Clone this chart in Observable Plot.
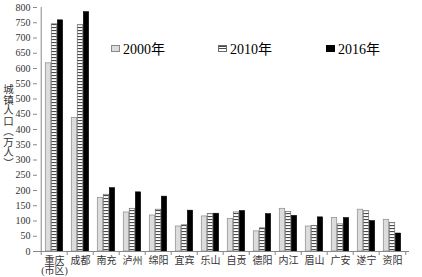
<!DOCTYPE html>
<html>
<head>
<meta charset="utf-8">
<script src="https://cdn.jsdelivr.net/npm/d3@7"></script>
<script src="https://cdn.jsdelivr.net/npm/@observablehq/plot@0.6"></script>
<style>
  html, body { margin: 0; padding: 0; background: #fff; }
  #wrap { position: relative; width: 422px; height: 277px; overflow: hidden; }
  #legend { position: absolute; top: 38px; left: 111px; display: flex; align-items: center;
    font-family: "Liberation Serif", "Noto Sans CJK SC", serif; font-size: 14px; color: #000; }
  .item { display: flex; align-items: center; }
  .sw { width: 9px; height: 7px; margin-right: 3px; box-sizing: border-box; }
</style>
</head>
<body>
<div id="wrap"></div>
<script>
const cities = ["重庆", "成都", "南充", "泸州", "绵阳", "宜宾", "乐山", "自贡", "德阳", "内江", "眉山", "广安", "遂宁", "资阳"];
const years = ["2000年", "2010年", "2016年"];
const v2000 = [617, 438, 176, 128, 118, 82, 115, 107, 66, 140, 82, 110, 137, 104];
const v2010 = [745, 742, 186, 140, 137, 86, 123, 128, 76, 130, 84, 89, 132, 93];
const v2016 = [758, 785, 208, 194, 180, 134, 124, 133, 123, 117, 112, 110, 100, 59];
const yTicks = d3.range(0, 801, 50);
const yLabel = "城\n镇\n人\n口\n︵\n万\n人\n︶";

const series = [v2000, v2010, v2016];
const rows = [];
years.forEach((y, j) => cities.forEach((c, i) => rows.push({city: c, year: y, value: series[j][i]})));

const W = 422, H = 277, mL = 37, mR = 13, mT = 7, mB = 26;
const bw = (W - mL - mR) / cities.length;
const barW = 6;
const pad = (bw - 3 * barW) / 2;
const font = "'Liberation Serif', 'Noto Sans CJK SC', serif";

const styles = [
  {fill: "#dcdcdc", stroke: "#8a8a8a", strokeWidth: 0.7},
  {fill: "url(#stripes)", stroke: "#6a6a6a", strokeWidth: 0.7},
  {fill: "#000", stroke: "#000", strokeWidth: 0.5}
];

const barMarks = years.map((y, j) => Plot.barY(rows.filter(r => r.year === y), {
  x: "city", y: "value",
  insetLeft: pad + j * barW,
  insetRight: bw - pad - (j + 1) * barW,
  ...styles[j]
}));

const chart = Plot.plot({
  width: W, height: H,
  marginLeft: mL, marginRight: mR, marginTop: mT, marginBottom: mB,
  style: {fontFamily: font, background: "white", color: "#000"},
  x: {type: "band", domain: cities, padding: 0, axis: null, label: null},
  y: {domain: [0, 800], axis: null, label: null},
  marks: [
    ...barMarks,
    Plot.ruleY([0], {stroke: "#888", strokeWidth: 1}),
    Plot.ruleX([cities[0]], {dx: -bw / 2, stroke: "#888", strokeWidth: 1}),
    Plot.ruleX(cities, {x: d => d, y1: 0, y2: 0, insetBottom: -4, dx: -bw / 2, stroke: "#888"}),
    Plot.ruleX([cities[cities.length - 1]], {y1: 0, y2: 0, insetBottom: -4, dx: bw / 2, stroke: "#888"}),
    Plot.axisY({ticks: yTicks, tickSize: 4, tickPadding: 3, label: null, fontSize: 10, stroke: "#888", fill: "#333"}),
    Plot.axisX({tickSize: 0, tickPadding: 5, fontSize: 10, lineHeight: 1, fill: "#333", label: null,
      tickFormat: c => c === "重庆" ? "重庆\n(市区)" : c}),
    Plot.text([yLabel], {text: d => d, frameAnchor: "left", textAnchor: "middle", dx: -29, dy: -3,
      fontSize: 10.5, lineHeight: 1, fill: "#333"})
  ]
});

d3.select(chart).insert("defs", ":first-child").html(
  '<pattern id="stripes" patternUnits="userSpaceOnUse" width="6" height="3">' +
  '<rect width="6" height="3" fill="#fff"/><rect width="6" height="1.1" fill="#4a4a4a"/></pattern>');

const wrap = document.getElementById("wrap");
wrap.appendChild(chart);

const legend = document.createElement("div");
legend.id = "legend";
const swStyles = [
  "background:#dcdcdc;border:1px solid #8a8a8a;",
  "background:repeating-linear-gradient(to bottom,#4a4a4a 0,#4a4a4a 1px,#fff 1px,#fff 2.5px);border:1px solid #6a6a6a;",
  "background:#000;"
];
years.forEach((y, j) => {
  const it = document.createElement("div");
  it.className = "item";
  it.style.marginRight = j === 0 ? "53px" : (j === 1 ? "54px" : "0");
  const sw = document.createElement("div");
  sw.className = "sw";
  sw.setAttribute("style", swStyles[j]);
  const t = document.createElement("span");
  t.textContent = y;
  it.appendChild(sw); it.appendChild(t);
  legend.appendChild(it);
});
wrap.appendChild(legend);
</script>
</body>
</html>
